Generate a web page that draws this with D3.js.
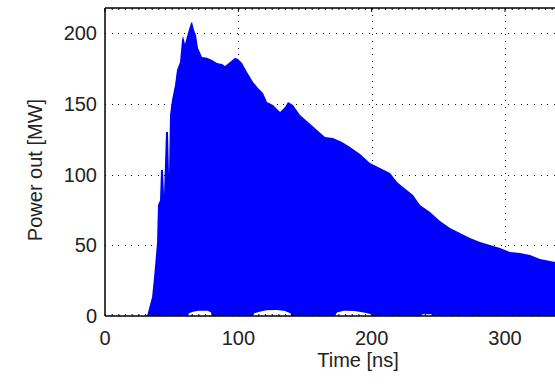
<!DOCTYPE html>
<html>
<head>
<meta charset="utf-8">
<script src="https://cdn.jsdelivr.net/npm/d3@7"></script>
<style>
  body { margin: 0; background: #fff; }
  svg { display: block; font-family: "Liberation Sans", Arial, sans-serif; }
</style>
</head>
<body>
<script>
// upper envelope of the output power trace (ns, MW)
const tempo = [31.5, 35.3, 36.8, 39, 39.75, 41.25, 42, 43.5, 44.25, 45.75, 47.25, 48, 48.75,
  50.25, 52.5, 54, 56.25, 57.75, 58.5, 60, 62.25, 64.5, 65.25, 66.75, 68.25, 69.75, 72.75,
  76.5, 80.25, 84, 87.75, 90, 93.75, 97.5, 99.75, 102.75, 106.5, 111, 114.75, 118.5, 121.5,
  126, 131.25, 135, 137.25, 141, 146.25, 152.25, 159, 165, 171, 177.75, 183.75, 191.25,
  198.75, 206.25, 213.75, 219, 223.5, 231, 236.25, 243.75, 251.25, 258.75, 266.25, 273.75,
  281.25, 288.75, 296.25, 303.75, 311.25, 318.75, 326.25, 333.75, 341.25, 350];
const potencia = [0, 13.5, 27.6, 51.7, 78.6, 82, 103.4, 103.4, 85.7, 130.3, 130.3, 99.8, 142.3,
  152.9, 163.5, 174.2, 179.8, 195.4, 198.2, 192.6, 200.4, 207.4, 208.1, 202.5, 198.9, 189.7,
  183.4, 182.7, 181.2, 179.1, 178.4, 177, 179.8, 182.7, 181.9, 179.1, 172.7, 165.7, 161.4,
  157.9, 151.5, 149.4, 144.4, 148, 151.5, 149.4, 142.3, 137.3, 131.7, 126.7, 126, 123.2,
  119.6, 114.7, 108.3, 104.8, 101.2, 94.9, 91.3, 85.7, 78.6, 73.6, 67.3, 62.3, 58.8, 55.2,
  52.4, 50.3, 48.1, 45.3, 44.6, 43.2, 40.4, 38.9, 37.5, 36];

// lower envelope: where the oscillation minimum lifts off zero
const tempoMin = [62.25, 63, 66, 70, 77, 79.5, 80.25,
  111, 112, 116, 121, 129, 135, 139, 140,
  172.5, 174, 179, 187, 194, 199, 200.25,
  237, 238, 245, 246];
const potenciaMin = [0, 2, 3, 3.8, 3.8, 2.5, 0,
  0, 2, 3, 4, 4.2, 3.5, 2, 0,
  0, 2.5, 3.8, 3.5, 2.5, 1.5, 0,
  0, 1.2, 1.2, 0];

const ticksX = [0, 100, 200, 300];
const ticksY = [0, 50, 100, 150, 200];

const width = 555;
const height = 384;
const margin = { top: 8, left: 105, bottom: 68 };
const innerH = height - margin.top - margin.bottom;

const svg = d3.select("body").append("svg")
  .attr("width", width)
  .attr("height", height);

const x = d3.scaleLinear().domain([0, 350]).range([margin.left, margin.left + 466.7]);
const y = d3.scaleLinear().domain([0, 218]).range([margin.top + innerH, margin.top]);

// dotted grid
const grid = svg.append("g")
  .attr("stroke", "#111")
  .attr("stroke-width", 1)
  .attr("stroke-dasharray", "1,5.6")
  .attr("shape-rendering", "crispEdges");

grid.selectAll(".gx").data(ticksX.slice(1)).join("line")
  .attr("x1", (d) => Math.round(x(d)) + 0.5).attr("x2", (d) => Math.round(x(d)) + 0.5)
  .attr("y1", y(218)).attr("y2", y(0));

grid.selectAll(".gy").data(ticksY.slice(1)).join("line")
  .attr("x1", x(0)).attr("x2", x(350))
  .attr("y1", (d) => Math.round(y(d)) + 0.5).attr("y2", (d) => Math.round(y(d)) + 0.5);

// trace
const curvaArriba = d3.area()
  .x((d, i) => x(tempo[i]))
  .y0(y(0))
  .y1((d, i) => y(potencia[i]));

svg.append("path")
  .datum(tempo)
  .attr("fill", "#0000ff")
  .attr("d", curvaArriba);

const curvaAbajo = d3.area()
  .x((d, i) => x(tempoMin[i]))
  .y0(y(0))
  .y1((d, i) => y(potenciaMin[i]));

svg.append("path")
  .datum(tempoMin)
  .attr("fill", "#fff")
  .attr("d", curvaAbajo);

// axes frame
const ejeX = svg.append("g")
  .attr("transform", `translate(0, ${y(0)})`)
  .call(d3.axisBottom(x).tickValues(d3.range(0, 351, 5)).tickSize(-2).tickFormat(""));
ejeX.select(".domain").remove();

const ejeXArriba = svg.append("g")
  .attr("transform", `translate(0, ${y(218)})`)
  .call(d3.axisTop(x).tickValues(d3.range(0, 351, 5)).tickSize(-2).tickFormat(""));
ejeXArriba.select(".domain").remove();

svg.selectAll(".major").data(ticksX).join("line")
  .attr("x1", (d) => x(d)).attr("x2", (d) => x(d))
  .attr("y1", y(218)).attr("y2", y(218) + 4)
  .attr("stroke", "#000");

svg.append("line")
  .attr("x1", x(0)).attr("x2", x(350))
  .attr("y1", y(0)).attr("y2", y(0))
  .attr("stroke", "#000").attr("stroke-width", 1.5);
svg.append("line")
  .attr("x1", x(0)).attr("x2", x(350))
  .attr("y1", y(218)).attr("y2", y(218))
  .attr("stroke", "#000").attr("stroke-width", 1.5);
svg.append("line")
  .attr("x1", x(0)).attr("x2", x(0))
  .attr("y1", y(0)).attr("y2", y(218))
  .attr("stroke", "#000").attr("stroke-width", 1.5);

// tick labels
svg.selectAll(".lx").data(ticksX).join("text")
  .attr("x", (d) => x(d))
  .attr("y", y(0) + 29)
  .attr("text-anchor", "middle")
  .attr("font-size", 20)
  .attr("fill", "#222")
  .text((d) => d);

svg.selectAll(".ly").data(ticksY).join("text")
  .attr("x", x(0) - 8)
  .attr("y", (d) => y(d) + 7)
  .attr("text-anchor", "end")
  .attr("font-size", 20)
  .attr("fill", "#222")
  .text((d) => d);

svg.append("text")
  .attr("x", 358)
  .attr("y", 367)
  .attr("text-anchor", "middle")
  .attr("font-size", 20)
  .attr("fill", "#222")
  .text("Time [ns]");

svg.append("text")
  .attr("transform", `translate(42, 170) rotate(-90)`)
  .attr("text-anchor", "middle")
  .attr("font-size", 20)
  .attr("fill", "#222")
  .text("Power out [MW]");
</script>
</body>
</html>
